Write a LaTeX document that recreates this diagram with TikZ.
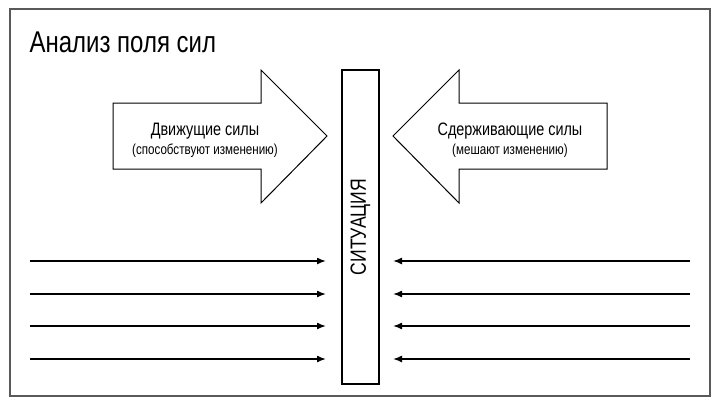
\documentclass[tikz,border=0pt]{standalone}
\usetikzlibrary{arrows.meta}
\usepackage{fontspec}
\setmainfont{Liberation Sans}[FakeStretch=0.8]
\begin{document}
\begin{tikzpicture}[x=1pt,y=-1pt,
  big/.style={draw=black,line width=1pt,fill=white},
  force/.style={line width=1.5pt,-{Latex[length=9pt,width=7pt]}},
  lbl/.style={align=center,font=\fontsize{18}{20}\selectfont}]
\useasboundingbox (0,0) rectangle (720,405);
\draw[gray!70!black,line width=1.2pt] (10,9) rectangle (710,396);
\node[anchor=west,font=\fontsize{30}{32}\selectfont] (title) at (26,42) {Анализ поля сил};
\draw[big] (113,103) -- (261,103) -- (261,70) -- (327,136) -- (261,203) -- (261,169) -- (113,169) -- cycle;
\draw[big] (607,103) -- (459,103) -- (459,70) -- (393,136) -- (459,203) -- (459,169) -- (607,169) -- cycle;
\node[lbl] (drv) at (205,140) {Движущие силы\\[-1pt]{\fontsize{14.5}{16}\selectfont (способствуют изменению)}};
\node[lbl] (rst) at (510,140) {Сдерживающие силы\\[-1pt]{\fontsize{14.5}{16}\selectfont (мешают изменению)}};
\node[draw,line width=1.8pt,minimum width=37pt,minimum height=314pt,inner sep=0pt] (sit) at (360.5,227) {};
\node[rotate=90,font=\fontsize{22}{24}\selectfont] at (sit.center) {СИТУАЦИЯ};
\foreach \y [count=\i] in {261,294,326,359}{
  \coordinate (l\i) at (30,\y); \coordinate (le\i) at (326,\y);
  \coordinate (r\i) at (690,\y); \coordinate (re\i) at (393,\y);
  \draw[force] (l\i) -- (le\i);
  \draw[force] (r\i) -- (re\i);
}
\end{tikzpicture}
\end{document}
